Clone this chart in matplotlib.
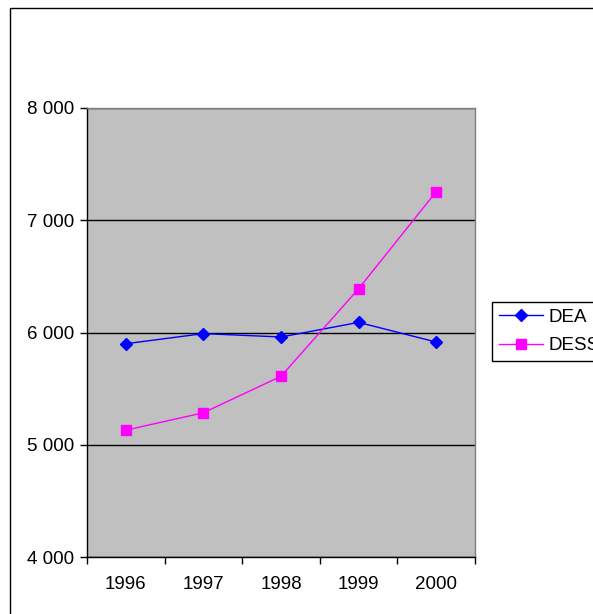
import numpy as np
import matplotlib

matplotlib.use("Agg")
import matplotlib.pyplot as plt
from matplotlib.patches import Rectangle

# Data
YEARS = ["1996", "1997", "1998", "1999", "2000"]
DEA = [5900, 5990, 5960, 6090, 5915]
DESS = [5130, 5285, 5610, 6390, 7255]
Y_TICKS = [4000, 5000, 6000, 7000, 8000]
Y_LABELS = ["4 000", "5 000", "6 000", "7 000", "8 000"]

FONT_SIZE = 13.5

plt.rcParams["font.family"] = ["Liberation Sans", "DejaVu Sans"]

W, H = 593, 614
fig = plt.figure(figsize=(W / 100, H / 100), dpi=100)

# outer chart border (cut off at right and bottom, as in the reference)
fig.patches.append(Rectangle((10 / W, -0.05), 1.2, 1 - 8 / H + 0.05,
                             transform=fig.transFigure, fill=False,
                             edgecolor="black", linewidth=1.0))

ax = fig.add_axes([87 / W, 1 - 557 / H, (475 - 87) / W, 449 / H])
ax.set_facecolor("#C0C0C0")

x = np.arange(len(YEARS))
ax.plot(x, DEA, color="#0000FF", marker="D", markersize=6, linewidth=1.0,
        label="DEA", zorder=3)
ax.plot(x, DESS, color="#FF00FF", marker="s", markersize=7, linewidth=1.0,
        label="DESS", zorder=3)

ax.set_xlim(-0.5, len(YEARS) - 0.5)
ax.set_ylim(Y_TICKS[0], Y_TICKS[-1])

# ticks between categories, labels centred in each category
ax.set_xticks(np.arange(-0.5, len(YEARS)), labels=[""] * (len(YEARS) + 1))
ax.set_xticks(x, labels=YEARS, minor=True)
ax.tick_params(axis="x", which="major", direction="out", length=5, width=1)
ax.tick_params(axis="x", which="minor", length=0, pad=14,
               labelsize=FONT_SIZE)

ax.set_yticks(Y_TICKS, labels=Y_LABELS)
ax.tick_params(axis="y", direction="out", length=5, width=1, pad=4,
               labelsize=FONT_SIZE)

ax.yaxis.grid(True, color="black", linewidth=1.0)
ax.set_axisbelow(True)

for side in ("top", "right"):
    ax.spines[side].set_color("#808080")
for side in ("left", "bottom"):
    ax.spines[side].set_color("black")
for sp in ax.spines.values():
    sp.set_linewidth(1.0)

leg = fig.legend(loc="upper left", bbox_to_anchor=(492 / W, 1 - 302 / H),
                 fontsize=FONT_SIZE, frameon=True, fancybox=False,
                 framealpha=1, edgecolor="black", handlelength=2.35,
                 handletextpad=0.32, borderpad=0.35, labelspacing=0.6,
                 borderaxespad=0)
leg.get_frame().set_linewidth(1.0)

fig.savefig("out.png", dpi=100)
